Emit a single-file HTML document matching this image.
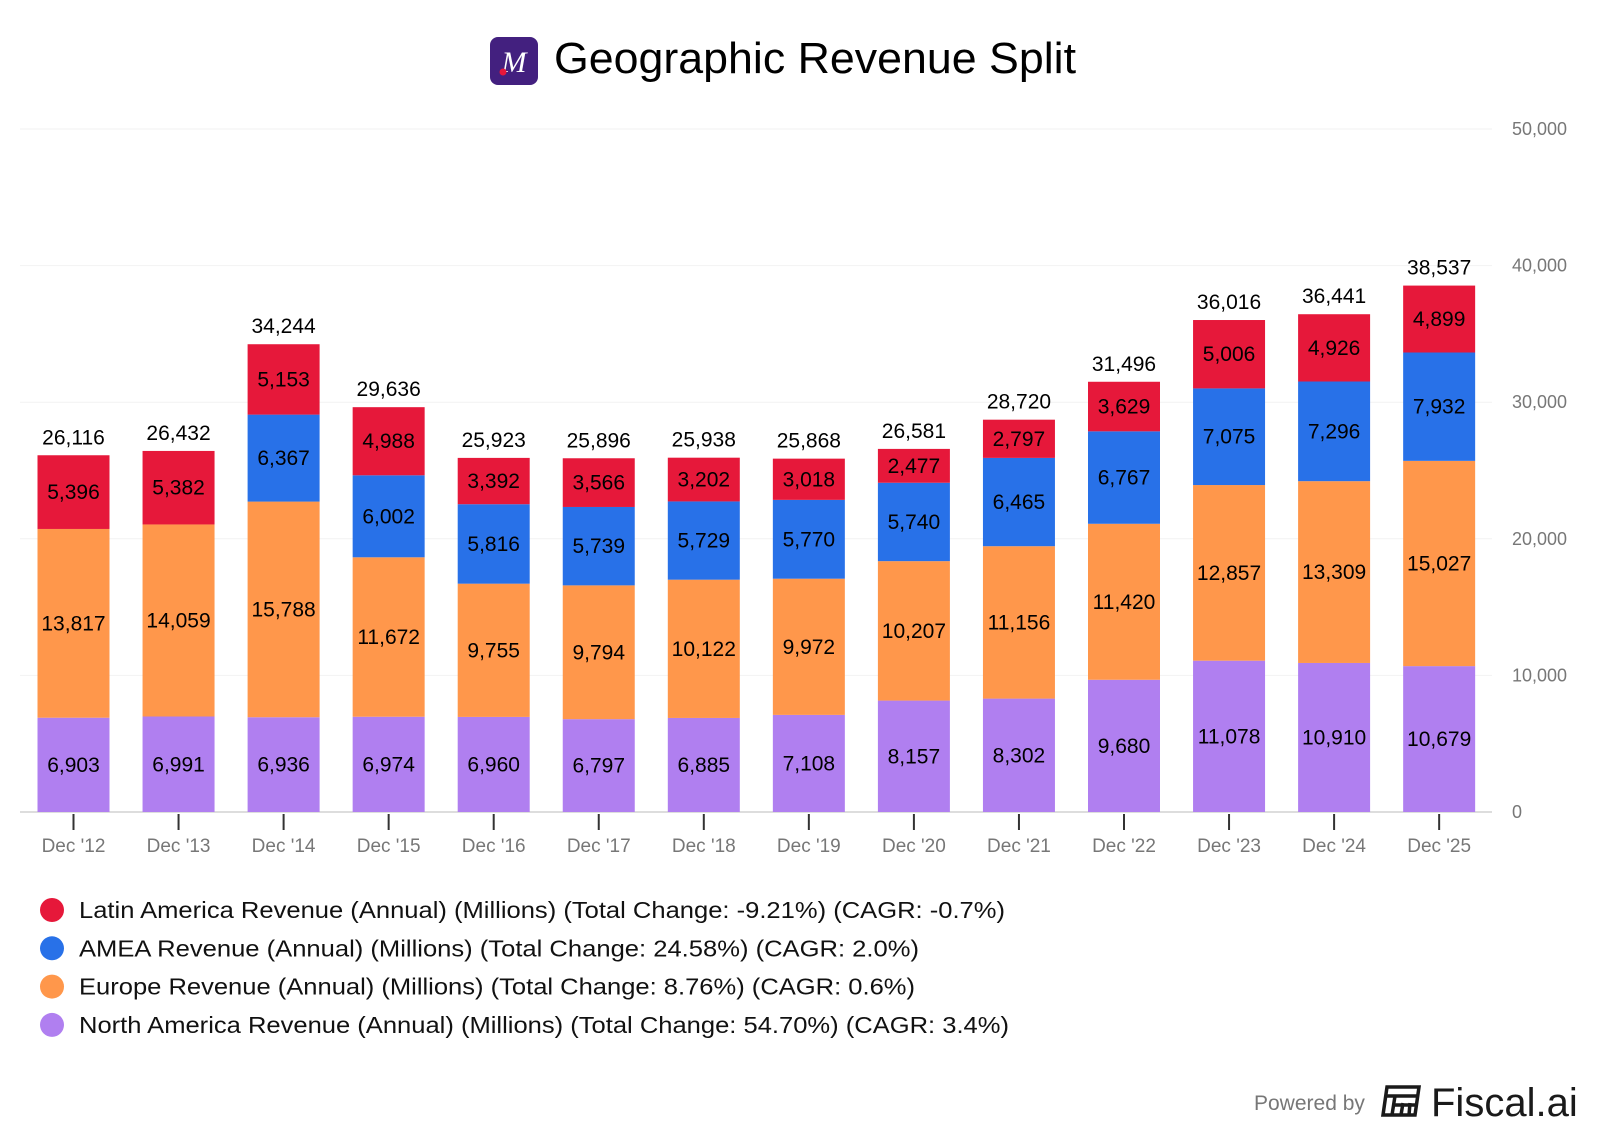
<!DOCTYPE html>
<html><head><meta charset="utf-8"><style>
body{margin:0;background:#fff;font-family:"Liberation Sans",Arial,sans-serif;}
svg{display:block}
</style></head><body>
<svg id="chart" width="1600" height="1134" viewBox="0 0 1600 1134">
<g>
<rect x="490" y="37" width="48" height="48" rx="8" fill="#43207f"/>
<text x="514" y="72" font-size="30" font-style="italic" font-family="Liberation Serif,serif" fill="#fff" text-anchor="middle">M</text>
<circle cx="503" cy="72" r="3.5" fill="#e8173a"/>
<text x="554" y="73" font-size="44" fill="#000" textLength="522" lengthAdjust="spacingAndGlyphs">Geographic Revenue Split</text>
</g>
<g id="grid"></g><g id="bars"></g><g id="labels"></g>
<g id="legend"></g>
<g>
<text x="1254" y="1110" font-size="21" fill="#777">Powered by</text>
<g transform="translate(1383,1085)" fill="none" stroke="#1a1a1a" stroke-width="3.5">
<path d="M4 2 H36 L32 30 H0 Z"/><path d="M2 11 H34 M12 11 L9 30 M20 18 L18 30 M27 18 L26 30 M11 20 H33"/>
</g>
<text x="1431" y="1116" font-size="40" fill="#1a1a1a">Fiscal.ai</text>
</g>
</svg>
<script>
const categories=["Dec '12","Dec '13","Dec '14","Dec '15","Dec '16","Dec '17","Dec '18","Dec '19","Dec '20","Dec '21","Dec '22","Dec '23","Dec '24","Dec '25"];
const northAmerica=[6903,6991,6936,6974,6960,6797,6885,7108,8157,8302,9680,11078,10910,10679];
const europe=[13817,14059,15788,11672,9755,9794,10122,9972,10207,11156,11420,12857,13309,15027];
const amea=[0,0,6367,6002,5816,5739,5729,5770,5740,6465,6767,7075,7296,7932];
const latinAmerica=[5396,5382,5153,4988,3392,3566,3202,3018,2477,2797,3629,5006,4926,4899];
const totals=[26116,26432,34244,29636,25923,25896,25938,25868,26581,28720,31496,36016,36441,38537];
const yTicks=[0,10000,20000,30000,40000,50000];
const series=[
 {name:"north-america",vals:northAmerica,color:"#b07ff0",label:"North America Revenue (Annual) (Millions) (Total Change: 54.70%) (CAGR: 3.4%)",w:930},
 {name:"europe",vals:europe,color:"#ff974b",label:"Europe Revenue (Annual) (Millions) (Total Change: 8.76%) (CAGR: 0.6%)",w:836},
 {name:"amea",vals:amea,color:"#2871e8",label:"AMEA Revenue (Annual) (Millions) (Total Change: 24.58%) (CAGR: 2.0%)",w:840},
 {name:"latin-america",vals:latinAmerica,color:"#e6183a",label:"Latin America Revenue (Annual) (Millions) (Total Change: -9.21%) (CAGR: -0.7%)",w:926}
];
const NS="http://www.w3.org/2000/svg";
const y0=812,y1=129,yMax=50000;
const y=v=>y0-(v/yMax)*(y0-y1);
const x=i=>73.5+i*105.05;
const bw=72;
function mk(tag,attrs,parent,txt){const e=document.createElementNS(NS,tag);for(const k in attrs)e.setAttribute(k,attrs[k]);if(txt!==undefined)e.textContent=txt;parent.appendChild(e);return e;}
const fmt=v=>v.toLocaleString('en-US');
const grid=document.getElementById('grid'),bars=document.getElementById('bars'),labels=document.getElementById('labels'),legend=document.getElementById('legend');
yTicks.forEach(t=>{
 const l=mk('line',{x1:20,x2:1492,y1:y(t),y2:y(t),stroke:t===0?'#ddd':'#f2f2f2','stroke-width':t===0?2:1},grid);
 
 
 const tx=mk('text',{x:1512,y:y(t)+6,'font-size':18,fill:'#777'},grid,fmt(t));
 
 
});
categories.forEach((c,i)=>{
 const tk=mk('line',{x1:x(i),x2:x(i),y1:814,y2:830,stroke:'#333','stroke-width':2},grid);
 
 
 const tl=mk('text',{x:x(i),y:852,'font-size':19,fill:'#777','text-anchor':'middle'},grid,c);
 
 
 let cum=0;
 series.forEach(s=>{
  const v=s.vals[i];if(!v)return;
  const top=y(cum+v),bot=y(cum);
  const r=mk('rect',{x:x(i)-bw/2,y:top,width:bw,height:bot-top,fill:s.color},bars);
  
  
  const t=mk('text',{x:x(i),y:(top+bot)/2+7,'font-size':21,fill:'#000','text-anchor':'middle'},labels,fmt(v));
  
  
  cum+=v;
 });
 const tt=mk('text',{x:x(i),y:y(cum)-11,'font-size':21,fill:'#000','text-anchor':'middle'},labels,fmt(totals[i]));
 
 
});
series.slice().reverse().forEach((s,k)=>{
 const g=mk('g',{},legend);
 
 
 const cy=910+k*38.3;
 mk('circle',{cx:52,cy:cy,r:12,fill:s.color},g);
 mk('text',{x:79,y:cy+8,'font-size':23,fill:'#111',textLength:s.w,lengthAdjust:'spacingAndGlyphs'},g,s.label);
});
</script>
</body></html>
